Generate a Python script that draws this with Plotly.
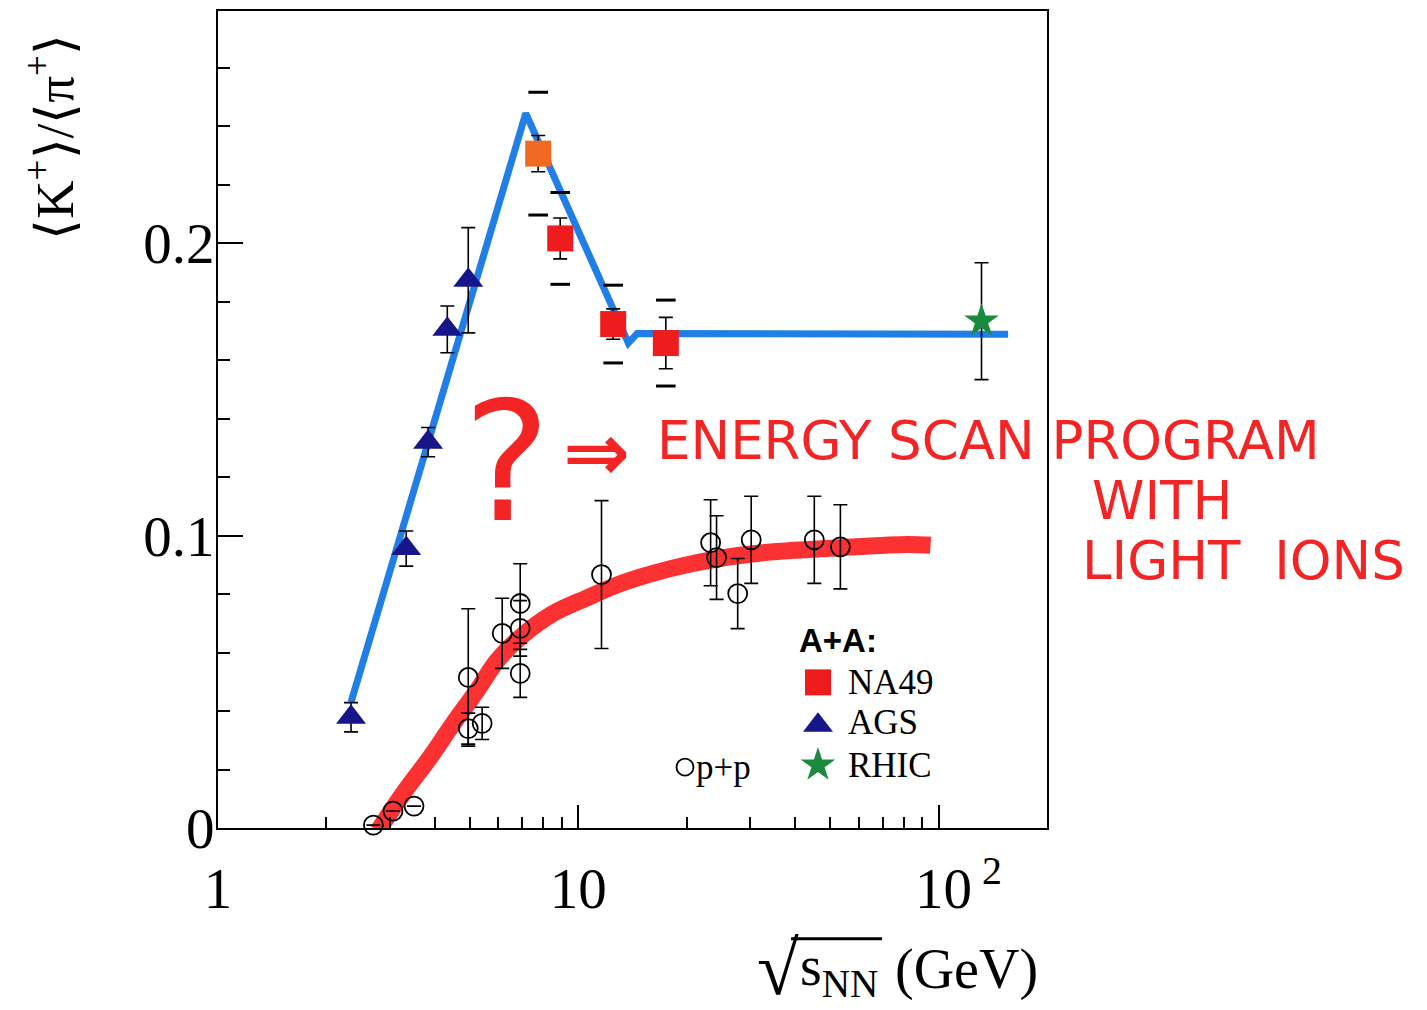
import math
import plotly.graph_objects as go

# ---------------- data ----------------
# p+p reference points (open circles)
pp_sqrts = [2.70, 3.06, 3.50, 4.95, 4.95, 5.41, 6.15, 6.90, 6.90, 6.90,
            11.6, 23.3, 24.2, 27.7, 30.2, 45.2, 53.4]
pp_ratio = [0.001, 0.0058, 0.0075, 0.0515, 0.034, 0.0358, 0.0666, 0.0768, 0.0683, 0.0529,
            0.0867, 0.0976, 0.0925, 0.0802, 0.0986, 0.0986, 0.0962]
pp_err = [0.0, 0.0, 0.0, 0.0235, 0.0053, 0.0055, 0.012, 0.0136, 0.0095, 0.0082,
          0.0253, 0.0147, 0.0143, 0.012, 0.0149, 0.0149, 0.0144]

# AGS (A+A)
ags_sqrts = [2.34, 3.33, 3.83, 4.33, 4.95]
ags_ratio = [0.0379, 0.0956, 0.132, 0.1706, 0.1874]
ags_err = [0.005, 0.006, 0.005, 0.008, 0.018]

# NA49 (A+A): statistical and systematic uncertainties
na49_sqrts = [7.74, 8.91, 12.5, 17.5]
na49_ratio = [0.2307, 0.2017, 0.1724, 0.1659]
na49_stat = [0.0062, 0.007, 0.0052, 0.0088]
na49_sys = [0.021, 0.0157, 0.0133, 0.0147]
na49_colors = ["#f26a21", "#ee1c1c", "#ee1c1c", "#ee1c1c"]

# RHIC (A+A)
rhic_sqrts = [131.6]
rhic_ratio = [0.1734]
rhic_err = [0.02]

# hand-drawn trend lines
aa_trend_sqrts = [2.34, 7.15, 13.77, 14.58, 156.0]
aa_trend_ratio = [0.043, 0.2445, 0.1659, 0.1692, 0.1689]
pp_trend_sqrts = [2.78, 3.27, 3.88, 4.50, 5.24, 5.96, 6.90, 8.52, 10.6, 13.1,
                  16.2, 20.5, 26.4, 34.8, 53.4, 82.0, 95.0]
pp_trend_ratio = [-0.001, 0.0119, 0.0242, 0.0358, 0.0471, 0.0573, 0.0652, 0.0734, 0.0788, 0.0836,
                  0.0872, 0.0903, 0.0928, 0.0945, 0.0959, 0.0970, 0.0967]

x_major = [1, 10, 100]
x_major_text = ["1", "10", "<sup>&nbsp;&nbsp;&nbsp;&nbsp;</sup>10<sup>&nbsp;2</sup>"]
x_minor = [2, 3, 4, 5, 6, 7, 8, 9, 20, 30, 40, 50, 60, 70, 80, 90]
y_major = [0, 0.1, 0.2]
y_major_text = ["0", "0.1", "0.2"]
y_minor = [0.02, 0.04, 0.06, 0.08, 0.12, 0.14, 0.16, 0.18, 0.22, 0.24, 0.26]

# ---------------- figure ----------------
W, H = 1427, 1010
L, R, T, B = 218, 380, 9, 182
PW, PH = W - L - R, H - T - B


def px(xp):
    return (xp - L) / PW


def py(yp):
    return (H - B - yp) / PH


SERIF = "Liberation Serif"
SANS = "Liberation Sans"
MARKER_RED = "#f42424"
ERR = dict(type="data", color="black", thickness=1.6, width=7)

fig = go.Figure()

# hand-drawn p+p trend (red marker pen)
fig.add_trace(go.Scatter(
    x=pp_trend_sqrts, y=pp_trend_ratio, mode="lines",
    line=dict(color="rgba(252,28,28,0.9)", width=17, shape="spline", smoothing=1.0),
    cliponaxis=False, hoverinfo="skip", showlegend=False))

# hand-drawn A+A trend (blue marker pen)
fig.add_trace(go.Scatter(
    x=aa_trend_sqrts, y=aa_trend_ratio, mode="lines",
    line=dict(color="#1f7fe6", width=7),
    hoverinfo="skip", showlegend=False))

# p+p
fig.add_trace(go.Scatter(
    x=pp_sqrts, y=pp_ratio, mode="markers",
    error_y=dict(array=pp_err, **ERR),
    marker=dict(symbol="circle-open", size=19, color="black", line=dict(width=1.8, color="black")),
    cliponaxis=False, showlegend=False))

# AGS
fig.add_trace(go.Scatter(
    x=ags_sqrts, y=ags_ratio, mode="markers",
    error_y=dict(array=ags_err, **ERR),
    marker=dict(symbol="triangle-up", size=26, color="#16168a"),
    showlegend=False))

# NA49 systematic bands (short dashes)
fig.add_trace(go.Scatter(
    x=na49_sqrts + na49_sqrts,
    y=[v + s for v, s in zip(na49_ratio, na49_sys)] + [v - s for v, s in zip(na49_ratio, na49_sys)],
    mode="markers",
    marker=dict(symbol="line-ew", size=14, line=dict(width=3, color="black")),
    showlegend=False))

# NA49
fig.add_trace(go.Scatter(
    x=na49_sqrts, y=na49_ratio, mode="markers",
    error_y=dict(array=na49_stat, **ERR),
    marker=dict(symbol="square", size=26, color=na49_colors),
    showlegend=False))

# RHIC
fig.add_trace(go.Scatter(
    x=rhic_sqrts, y=rhic_ratio, mode="markers",
    error_y=dict(array=rhic_err, **ERR),
    marker=dict(symbol="star", size=26, color="#1b8a3e"),
    showlegend=False))

# legend keys on an overlay frame
fig.add_trace(go.Scatter(
    x=[px(818), px(818), px(818), px(685)],
    y=[py(682), py(725), py(765), py(767)],
    xaxis="x2", yaxis="y2", mode="markers",
    marker=dict(symbol=["square", "triangle-up", "star", "circle-open"],
                size=[26, 26, 26, 17], opacity=1,
                color=["#ee1c1c", "#16168a", "#1b8a3e", "black"],
                line=dict(width=[0, 0, 0, 1.8], color="black")),
    hoverinfo="skip", showlegend=False))

ann = []
# legend text
ann.append(dict(text="<b>A+A:</b>", x=px(797), y=py(640), xanchor="left", yanchor="middle",
                font=dict(family=SANS, size=33, color="black")))
for label, yy in [("NA49", 682), ("AGS", 722), ("RHIC", 765)]:
    ann.append(dict(text=label, x=px(846), y=py(yy), xanchor="left", yanchor="middle",
                    font=dict(family=SERIF, size=35, color="black")))
ann.append(dict(text="p+p", x=px(694), y=py(767), xanchor="left", yanchor="middle",
                font=dict(family=SERIF, size=35, color="black")))

# axis titles
ann.append(dict(text="⟨K<sup>+</sup>⟩/⟨π<sup>+</sup>⟩", x=px(50), y=py(135),
                xanchor="center", yanchor="middle", textangle=-90,
                font=dict(family=SERIF, size=53, color="black")))
ann.append(dict(text="√", x=px(755), y=py(968), xanchor="left", yanchor="middle",
                font=dict(family=SERIF, size=76, color="black")))
ann.append(dict(text="s<sub>NN</sub>", x=px(798), y=py(970), xanchor="left", yanchor="middle",
                font=dict(family=SERIF, size=56, color="black")))
ann.append(dict(text="(GeV)", x=px(1040), y=py(970), xanchor="right", yanchor="middle",
                font=dict(family=SERIF, size=56, color="black")))

# handwritten notes
HAND = "DejaVu Sans"
ann.append(dict(text="?", x=px(507), y=py(462), xanchor="center", yanchor="middle",
                font=dict(family=HAND, size=165, color=MARKER_RED)))
ann.append(dict(text="⇒", x=px(596), y=py(452), xanchor="center", yanchor="middle",
                font=dict(family=HAND, size=80, color=MARKER_RED, weight="bold")))
ann.append(dict(text="ENERGY SCAN PROGRAM", x=px(655), y=py(440), xanchor="left", yanchor="middle",
                font=dict(family=HAND, size=53, color=MARKER_RED)))
ann.append(dict(text="WITH", x=px(1090), y=py(500), xanchor="left", yanchor="middle",
                font=dict(family=HAND, size=53, color=MARKER_RED)))
ann.append(dict(text="LIGHT  IONS", x=px(1080), y=py(560), xanchor="left", yanchor="middle",
                font=dict(family=HAND, size=53, color=MARKER_RED)))

for a in ann:
    a.update(xref="paper", yref="paper", showarrow=False)

shapes = [dict(type="line", xref="paper", yref="paper",
               x0=px(791), x1=px(882), y0=py(939), y1=py(939),
               line=dict(color="black", width=3))]

fig.update_layout(
    width=W, height=H,
    margin=dict(l=L, r=R, t=T, b=B),
    paper_bgcolor="white", plot_bgcolor="white",
    showlegend=False,
    annotations=ann, shapes=shapes,
    xaxis=dict(
        type="log", range=[0, math.log10(200)],
        tickmode="array", tickvals=x_major, ticktext=x_major_text,
        ticks="inside", ticklen=23, tickwidth=2, tickcolor="black",
        tickfont=dict(family=SERIF, size=57, color="black"),
        ticklabelstandoff=10,
        minor=dict(tickmode="array", tickvals=x_minor, ticks="inside",
                   ticklen=11, tickwidth=2, tickcolor="black", showgrid=False),
        showline=True, linewidth=2, linecolor="black", mirror=True,
        showgrid=False, zeroline=False),
    yaxis=dict(
        range=[0, 0.2795],
        tickmode="array", tickvals=y_major, ticktext=y_major_text,
        ticks="inside", ticklen=25, tickwidth=2, tickcolor="black",
        tickfont=dict(family=SERIF, size=57, color="black"),
        ticklabelstandoff=-10,
        minor=dict(tickmode="array", tickvals=y_minor, ticks="inside",
                   ticklen=12, tickwidth=2, tickcolor="black", showgrid=False),
        showline=True, linewidth=2, linecolor="black", mirror=True,
        showgrid=False, zeroline=False),
    xaxis2=dict(overlaying="x", range=[0, 1], visible=False),
    yaxis2=dict(overlaying="y", range=[0, 1], visible=False),
)

fig.write_html("out.html")
